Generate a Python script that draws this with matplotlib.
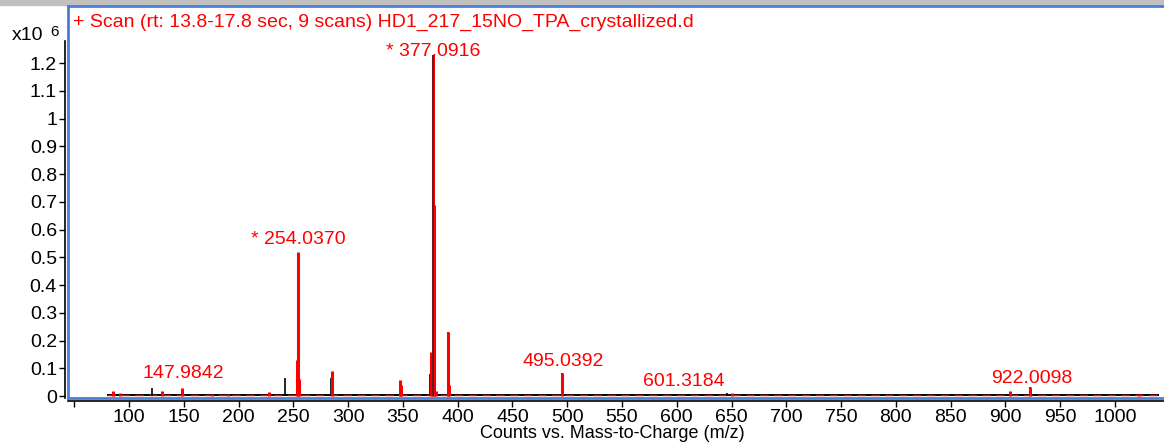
import numpy as np
import matplotlib.pyplot as plt
from matplotlib.patches import Rectangle
from matplotlib.lines import Line2D

plt.rcParams['font.family'] = ['Liberation Sans', 'DejaVu Sans']

# ---- datos del espectro (intensidad en x10^6 cuentas) ----
mz_red = [85, 92, 130, 148, 176, 190, 228, 253, 254.04, 255, 285, 347, 348,
          376, 377.09, 378, 380, 391, 392, 495, 650, 904, 922, 1022]
int_red = [0.02, 0.01, 0.018, 0.03, 0.008, 0.008, 0.015, 0.13, 0.52, 0.06,
           0.09, 0.058, 0.04, 0.16, 1.23, 0.69, 0.02, 0.23, 0.04, 0.083,
           0.012, 0.02, 0.033, 0.008]
mz_blk = [121, 242, 284.5, 375, 377.4, 379, 391.6, 495.6, 646, 922.5]
int_blk = [0.03, 0.065, 0.065, 0.08, 1.23, 0.07, 0.23, 0.083, 0.012, 0.033]

labels = ["* 377.0916", "* 254.0370", "147.9842", "495.0392", "601.3184", "922.0098"]
label_x = [377.5, 254.3, 149.3, 496.1, 606.6, 924.2]
label_y = [1.24, 0.564, 0.080, 0.123, 0.051, 0.065]

yticks = [0, 0.1, 0.2, 0.3, 0.4, 0.5, 0.6, 0.7, 0.8, 0.9, 1, 1.1, 1.2]
ytick_labels = ["0", "0.1", "0.2", "0.3", "0.4", "0.5", "0.6", "0.7", "0.8",
                "0.9", "1", "1.1", "1.2"]
xticks = list(range(50, 1001, 50))
xtick_labels = [""] + [str(v) for v in xticks[1:]]

blue = '#4a7fd8'

fig = plt.figure(figsize=(11.64, 4.42), dpi=100)
ax = fig.add_axes([68 / 1164, 44 / 442, 1 - 68 / 1164, 391 / 442])

# linea base
ax.hlines(0.004, 80, 1040, color='black', lw=1.4)
ax.hlines(0.004, 80, 1040, color='red', lw=1.0, linestyles=(0, (6, 4)))

ax.vlines(mz_blk, 0, int_blk, color='black', lw=1.2)
ax.vlines(mz_red, 0, int_red, color='red', lw=2.2)
ax.vlines([377.3], 0, [1.23], color='#5a1a2a', lw=1.2)

for t, x, y in zip(labels, label_x, label_y):
    ax.text(x, y, t, color='red', fontsize=14, ha='center', va='center')

ax.set_xlim(44.3, 1044.7)
ax.set_ylim(-0.007, 1.402)
ax.set_xticks(xticks)
ax.set_xticklabels(xtick_labels)
ax.set_yticks(yticks)
ax.set_yticklabels(ytick_labels)
ax.tick_params(labelsize=14, colors='black', length=4, width=1, pad=2)

for s in ['top', 'right']:
    ax.spines[s].set_visible(False)
ax.spines['left'].set_position(('outward', 2))
ax.spines['bottom'].set_position(('outward', 2))
ax.spines['left'].set_bounds(-0.007, 1.28)
ax.spines['left'].set_linewidth(1.2)
ax.spines['bottom'].set_linewidth(1.2)

# marco azul y franja gris
fig.add_artist(Rectangle((0, 1 - 5 / 442), 1, 5 / 442, transform=fig.transFigure,
                         color='#c0c0c0', zorder=0))
fig.add_artist(Line2D([68 / 1164, 1], [1 - 6 / 442, 1 - 6 / 442],
                      transform=fig.transFigure, color=blue, lw=2))
fig.add_artist(Line2D([68 / 1164, 68 / 1164], [1 - 6 / 442, 44 / 442],
                      transform=fig.transFigure, color=blue, lw=2))
fig.add_artist(Line2D([68 / 1164, 1], [44 / 442, 44 / 442],
                      transform=fig.transFigure, color=blue, lw=2))

fig.text(73 / 1164, 1 - 22 / 442,
         "+ Scan (rt: 13.8-17.8 sec, 9 scans) HD1_217_15NO_TPA_crystallized.d",
         color='red', fontsize=14, va='center', ha='left')
fig.text(12 / 1164, 1 - 35 / 442, "x10", fontsize=14, va='center', ha='left')
fig.text(50 / 1164, 1 - 32 / 442, "6", fontsize=11, va='center', ha='left')
fig.text(612 / 1164, 1 - 433 / 442, "Counts vs. Mass-to-Charge (m/z)",
         fontsize=13, va='center', ha='center')

plt.savefig('out.png', dpi=100)
